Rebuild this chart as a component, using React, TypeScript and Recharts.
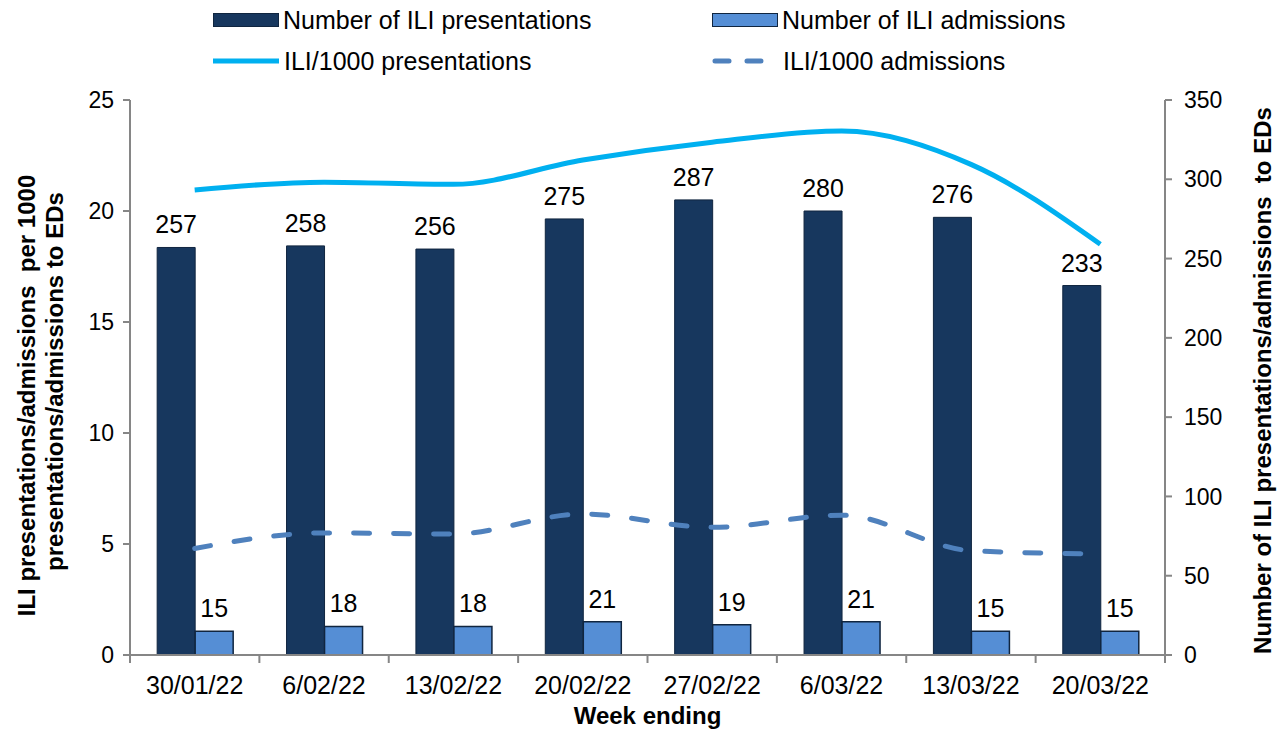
import React from "react";
import { ComposedChart, Bar, Line, XAxis, YAxis, Legend, LabelList } from "recharts";

const weeks = ["30/01/22", "6/02/22", "13/02/22", "20/02/22", "27/02/22", "6/03/22", "13/03/22", "20/03/22"];
const presentations = [257, 258, 256, 275, 287, 280, 276, 233];
const admissions = [15, 18, 18, 21, 19, 21, 15, 15];
const perThousandPresentations = [20.95, 21.3, 21.2, 22.3, 23.1, 23.6, 22.1, 18.5];
const perThousandAdmissions = [4.8, 5.5, 5.45, 6.35, 5.75, 6.3, 4.7, 4.55];
const leftTicks = [0, 5, 10, 15, 20, 25];
const rightTicks = [0, 50, 100, 150, 200, 250, 300, 350];

const W = 1280;
const H = 731;
const LEFT_W = 130;
const RIGHT_W = 115;
const BAND = (W - LEFT_W - RIGHT_W) / weeks.length;
const FONT = "'Liberation Sans', Arial, sans-serif";
const AXIS = "#868686";

const NAVY = "#17375E";
const MID = "#558ED5";
const CYAN = "#00B0F0";
const DASH = "#4F81BD";

const rows = weeks.map((w, i) => ({
  week: w,
  pres: presentations[i],
  adm: admissions[i],
  presRate: perThousandPresentations[i],
  admRate: perThousandAdmissions[i],
}));

function WeekTick(props: any) {
  const { x, y, payload, index } = props;
  const last = index === weeks.length - 1;
  return (
    <g>
      <line x1={x - BAND / 2} x2={x - BAND / 2} y1={y} y2={y + 8} stroke={AXIS} strokeWidth={2} />
      {last && <line x1={x + BAND / 2} x2={x + BAND / 2} y1={y} y2={y + 8} stroke={AXIS} strokeWidth={2} />}
      <text x={x} y={y + 21} dy="0.71em" textAnchor="middle" fontSize={25} fill="#000" fontFamily={FONT}>
        {payload.value}
      </text>
    </g>
  );
}

function LeftTitle(props: any) {
  const vb = props.viewBox || { x: 0, y: 100, width: LEFT_W, height: 555 };
  const cy = vb.y + vb.height / 2;
  const t = (x: number, y: number, s: string) => (
    <text
      x={x}
      y={y}
      transform={`rotate(-90 ${x} ${y})`}
      textAnchor="middle"
      dominantBaseline="central"
      fontSize={24}
      fontWeight="bold"
      fontFamily={FONT}
      fill="#000"
      style={{ whiteSpace: "pre" }}
    >
      {s}
    </text>
  );
  return (
    <g>
      {t(vb.x + 26, cy + 18, "ILI presentations/admissions  per 1000")}
      {t(vb.x + 54, cy + 4, "presentations/admissions to EDs")}
    </g>
  );
}

function RightTitle(props: any) {
  const vb = props.viewBox || { x: W - RIGHT_W, y: 100, width: RIGHT_W, height: 555 };
  const x = vb.x + 97;
  const y = vb.y + vb.height / 2 + 3;
  return (
    <text
      x={x}
      y={y}
      transform={`rotate(-90 ${x} ${y})`}
      textAnchor="middle"
      dominantBaseline="central"
      fontSize={24}
      fontWeight="bold"
      fontFamily={FONT}
      fill="#000"
      style={{ whiteSpace: "pre" }}
    >
      Number of ILI presentations/admissions  to EDs
    </text>
  );
}

function Swatch({ kind }: { kind: string }) {
  if (kind === "navy" || kind === "mid") {
    return (
      <div
        style={{
          width: 66,
          height: 14,
          boxSizing: "border-box",
          background: kind === "navy" ? NAVY : MID,
          border: "1.5px solid #10253F",
        }}
      />
    );
  }
  return (
    <svg width={68} height={10}>
      <line
        x1={kind === "dash" ? 4 : 1}
        x2={kind === "dash" ? 64 : 67}
        y1={5}
        y2={5}
        stroke={kind === "dash" ? DASH : CYAN}
        strokeWidth={5}
        strokeDasharray={kind === "dash" ? "14 18" : undefined}
        strokeLinecap={kind === "dash" ? "round" : "butt"}
      />
    </svg>
  );
}

function LegendBox() {
  const item = (left: number, cy: number, kind: string, label: string) => (
    <div
      style={{
        position: "absolute",
        left,
        top: cy - 15,
        height: 30,
        display: "flex",
        alignItems: "center",
        gap: 4,
        whiteSpace: "nowrap",
      }}
    >
      <Swatch kind={kind} />
      <span>{label}</span>
    </div>
  );
  return (
    <div style={{ position: "relative", width: W, height: 84, fontFamily: FONT, fontSize: 25, color: "#000" }}>
      {item(213, 20, "navy", "Number of ILI presentations")}
      {item(712, 20, "mid", "Number of ILI admissions")}
      {item(212, 61, "line", "ILI/1000 presentations")}
      {item(711, 61, "dash", "ILI/1000 admissions")}
    </div>
  );
}

export default function App() {
  const tickStyle = { fontSize: 23, fill: "#000", fontFamily: FONT };
  const labelStyle = { fontSize: 25, fill: "#000", fontFamily: FONT };
  return (
    <div style={{ position: "absolute", left: 0, top: 0, width: W, height: H, background: "#fff" }}>
      <ComposedChart
        width={W}
        height={H}
        data={rows}
        margin={{ top: 16, right: 0, bottom: 0, left: 0 }}
        barCategoryGap="21%"
        barGap={0}
      >
        <Legend verticalAlign="top" content={<LegendBox />} wrapperStyle={{ top: 0, left: 0, width: W, height: 84 }} />
        <XAxis
          dataKey="week"
          height={76}
          tickLine={false}
          tickSize={0}
          tickMargin={0}
          interval={0}
          axisLine={{ stroke: AXIS, strokeWidth: 2 }}
          tick={<WeekTick />}
          label={{
            value: "Week ending",
            position: "insideBottom",
            offset: 7,
            style: { fontSize: 24, fontWeight: "bold", fill: "#000", fontFamily: FONT },
          }}
        />
        <YAxis
          yAxisId="left"
          width={LEFT_W}
          domain={[0, 25]}
          ticks={leftTicks}
          interval={0}
          tickSize={7}
          tickMargin={9}
          axisLine={{ stroke: AXIS, strokeWidth: 2 }}
          tickLine={{ stroke: AXIS, strokeWidth: 2 }}
          tick={tickStyle}
          label={<LeftTitle />}
        />
        <YAxis
          yAxisId="right"
          orientation="right"
          width={RIGHT_W}
          domain={[0, 350]}
          ticks={rightTicks}
          interval={0}
          tickSize={7}
          tickMargin={12}
          axisLine={{ stroke: AXIS, strokeWidth: 2 }}
          tickLine={{ stroke: AXIS, strokeWidth: 2 }}
          tick={tickStyle}
          label={<RightTitle />}
        />
        <Bar yAxisId="right" dataKey="pres" fill={NAVY} stroke="#10253F" strokeWidth={1} isAnimationActive={false}>
          <LabelList dataKey="pres" position="top" offset={14} style={labelStyle} />
        </Bar>
        <Bar yAxisId="right" dataKey="adm" fill={MID} stroke="#10253F" strokeWidth={1.5} isAnimationActive={false}>
          <LabelList dataKey="adm" position="top" offset={14} style={labelStyle} />
        </Bar>
        <Line
          yAxisId="left"
          type="monotone"
          dataKey="presRate"
          stroke={CYAN}
          strokeWidth={5}
          dot={false}
          activeDot={false}
          isAnimationActive={false}
        />
        <Line
          yAxisId="left"
          type="monotone"
          dataKey="admRate"
          stroke={DASH}
          strokeWidth={5}
          strokeDasharray="16 24"
          strokeLinecap="round"
          dot={false}
          activeDot={false}
          isAnimationActive={false}
        />
      </ComposedChart>
    </div>
  );
}
